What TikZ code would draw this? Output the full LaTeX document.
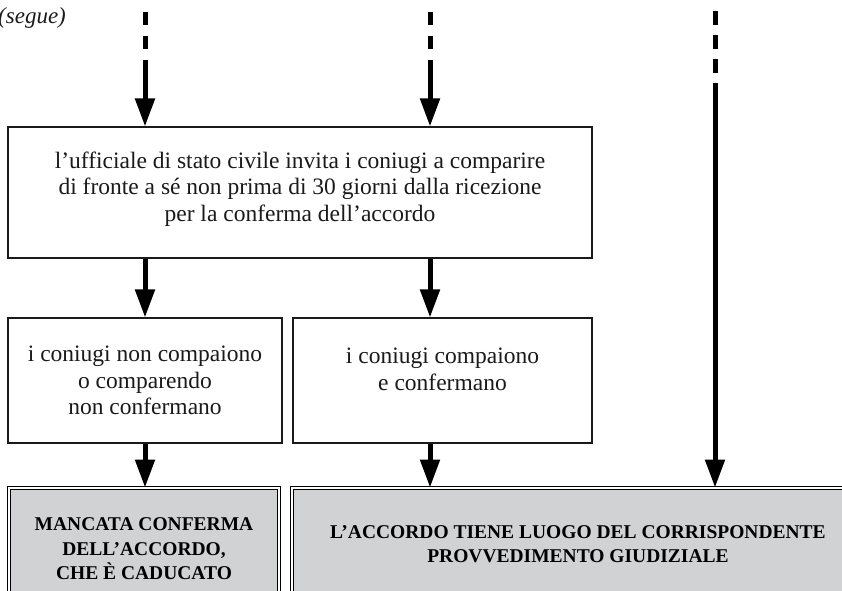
\documentclass[tikz,border=0pt]{standalone}
\usepackage{fontspec}
\setmainfont{Liberation Serif}
\usetikzlibrary{arrows.meta}
\definecolor{boxgray}{HTML}{D1D2D4}
\definecolor{ink}{HTML}{1A1A1A}
\newcommand{\boxlines}[2]{\raisebox{0pt}[\height][\dimexpr\depth+#1\relax]{\begin{tabular}{@{}c@{}}#2\end{tabular}}}
\newcommand{\tightls}{\setlength{\lineskiplimit}{-20pt}}
\newcommand{\plainfont}{\fontsize{23.5}{26.5}\selectfont\tightls}
\newcommand{\resultfont}{\bfseries\fontsize{19.5}{24.5}\selectfont\tightls}
\tikzset{
  plainbox/.style={draw=ink, line width=1.1pt, fill=white, align=center, inner sep=0pt,
    font=\plainfont, text=ink},
  resultbox/.style={draw=black, line width=0.9pt, double=white, double distance=1.6pt,
    fill=boxgray, align=center, inner sep=0pt, font=\resultfont},
  flow/.style={line width=5pt, -{Triangle[width=19pt,length=28pt]}},
  dashseg/.style={line width=5pt},
}
\begin{document}
\begin{tikzpicture}[x=1pt,y=-1pt]
\useasboundingbox (0,0) rectangle (842,590);
\clip (0,0) rectangle (842,590);

\node[anchor=west, font=\itshape\fontsize{23}{26}\selectfont, inner sep=0pt, text=ink] (segue) at (-2,18) {(segue)};

% boxes
\node[plainbox, minimum width=584pt, minimum height=131pt] (top) at (300,192.5)
  {\boxlines{6pt}{l’ufficiale di stato civile invita i coniugi a comparire\\
   di fronte a sé non prima di 30 giorni dalla ricezione\\
   per la conferma dell’accordo}};
\node[plainbox, minimum width=274pt, minimum height=125pt] (nc) at (145,380.5)
  {i coniugi non compaiono\\ o comparendo\\ non confermano};
\node[plainbox, minimum width=299pt, minimum height=125pt] (c) at (442.5,380.5)
  {\boxlines{18pt}{i coniugi compaiono\\ e confermano}};
\node[resultbox, minimum width=270pt, minimum height=122pt] (mc) at (144,549)
  {MANCATA CONFERMA\\ DELL’ACCORDO,\\ CHE È CADUCATO};
\node[resultbox, minimum width=572pt, minimum height=112pt] (acc) at (578,544)
  {L’ACCORDO TIENE LUOGO DEL CORRISPONDENTE\\ PROVVEDIMENTO GIUDIZIALE};

% dashed starts
\coordinate (a1) at (145,12); \coordinate (a2) at (145,25);
\coordinate (a3) at (145,36); \coordinate (a4) at (145,49);
\coordinate (a5) at (145,60);
\coordinate (b1) at (430,12); \coordinate (b2) at (430,25);
\coordinate (b3) at (430,36); \coordinate (b4) at (430,49);
\coordinate (b5) at (430,60);
\coordinate (r1) at (715,11); \coordinate (r2) at (715,25);
\coordinate (r3) at (715,35); \coordinate (r4) at (715,49);
\coordinate (r5) at (715,59); \coordinate (r6) at (715,73);
\coordinate (r7) at (715,83);

\draw[dashseg] (a1) -- (a2); \draw[dashseg] (a3) -- (a4);
\draw[dashseg] (b1) -- (b2); \draw[dashseg] (b3) -- (b4);
\draw[dashseg] (r1) -- (r2); \draw[dashseg] (r3) -- (r4); \draw[dashseg] (r5) -- (r6);

\draw[flow] (a5) -- (a5 |- top.north);
\draw[flow] (b5) -- (b5 |- top.north);
\draw[flow] (r7) -- (r7 |- acc.north);

\draw[flow] (top.south -| nc.north) -- (nc.north);
\draw[flow] (top.south -| b5) -- (b5 |- c.north);
\draw[flow] (nc.south) -- (nc.south |- mc.north);
\draw[flow] (c.south -| b5) -- (b5 |- acc.north);
\end{tikzpicture}
\end{document}
